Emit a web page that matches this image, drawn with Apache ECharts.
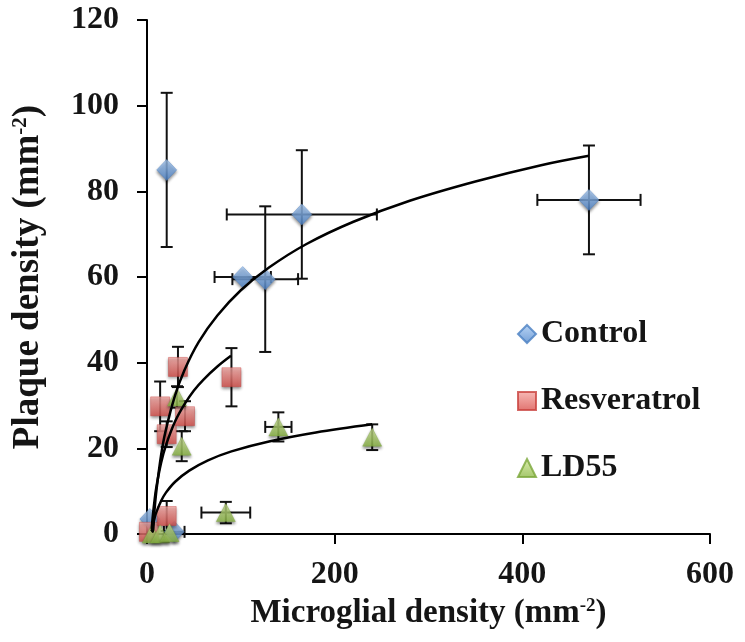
<!DOCTYPE html>
<html>
<head>
<meta charset="utf-8">
<script src="https://cdn.jsdelivr.net/npm/echarts@6/dist/echarts.min.js"></script>
<style>
html,body{margin:0;padding:0;background:#fff;}
#chart{width:745px;height:642px;}
</style>
</head>
<body>
<div id="chart"></div>
<script>
// ---- data ----
const seriesNames = ['Control', 'Resveratrol', 'LD55'];
const xTicks = [0, 200, 400, 600];
const yTicks = [0, 20, 40, 60, 80, 100, 120];

const controlX    = [3, 29, 21, 102, 126, 165, 471];
const controlY    = [3.5, 0.5, 85, 60, 59.5, 74.6, 78];
const controlXErr = [0, 11, 0, 30, 35, 80, 55];
const controlYErr = [0, 0, 18, 0, 17, 15, 12.7];

const resvX    = [2, 14, 21, 21, 33, 40.5, 90];
const resvY    = [0.5, 29.8, 23.3, 4.2, 39, 27.5, 36.6];
const resvXErr = [0, 0, 0, 0, 0, 0, 0];
const resvYErr = [0, 5.8, 3, 3.5, 4.7, 3.5, 6.8];

const ldX    = [5, 14, 24, 32, 37, 84, 140, 240];
const ldY    = [0, 0, 0.3, 32, 20.5, 5, 25, 22.6];
const ldXErr = [0, 0, 0, 0, 0, 26, 14, 0];
const ldYErr = [0, 0, 0, 2.5, 3.5, 2.5, 3.4, 3];

// trendline points
const controlFitX = [5, 6, 8, 10, 15, 20, 30, 40, 55, 75, 100, 130, 170, 220, 280, 350, 420, 471];
const controlFitY = [1, 0.5, 5.6, 10.1, 18.4, 24.2, 32.4, 38.3, 44.8, 51.0, 56.9, 62.2, 67.7, 72.9, 77.8, 82.3, 86.1, 88.3];
const resvFitX = [5, 6, 8, 10, 15, 20, 30, 40, 50, 60, 75, 89.5];
const resvFitY = [1.2, 3.8, 7.8, 11, 16.6, 20.6, 26.3, 30.3, 33.5, 36, 39.1, 41.6];
const ldFitX = [5, 6, 8, 10, 15, 20, 30, 45, 65, 90, 130, 180, 240];
const ldFitY = [0.7, 1.8, 3.7, 5.1, 7.7, 9.6, 12.2, 14.8, 17.2, 19.3, 21.6, 23.7, 25.6];

// ---- build ----
const FONT = '"Liberation Serif", "DejaVu Serif", serif';
const zip2 = (a, b) => a.map((v, i) => [v, b[i]]);
const zip4 = (a, b, c, d) => a.map((v, i) => [v, b[i], c[i], d[i]]);

function grad(top, bottom) {
  return new echarts.graphic.LinearGradient(0, 0, 0, 1, [
    { offset: 0, color: top }, { offset: 1, color: bottom }
  ]);
}
const blueFill = grad('#a9cbf3', '#4f86cc');
const redFill = grad('#f6a9a5', '#d9504b');
const greenFill = grad('#d3e99a', '#8cb845');

function errRender(params, api) {
  const x = api.value(0), y = api.value(1), xe = api.value(2), ye = api.value(3);
  const c = api.coord([x, y]);
  const cap = 6;
  const style = { stroke: '#111', lineWidth: 2 };
  const ch = [];
  if (ye > 0) {
    const t = api.coord([x, y + ye]), b = api.coord([x, y - ye]);
    ch.push({ type: 'line', shape: { x1: c[0], y1: t[1], x2: c[0], y2: b[1] }, style });
    ch.push({ type: 'line', shape: { x1: c[0] - cap, y1: t[1], x2: c[0] + cap, y2: t[1] }, style });
    ch.push({ type: 'line', shape: { x1: c[0] - cap, y1: b[1], x2: c[0] + cap, y2: b[1] }, style });
  }
  if (xe > 0) {
    const l = api.coord([x - xe, y]), r = api.coord([x + xe, y]);
    ch.push({ type: 'line', shape: { x1: l[0], y1: c[1], x2: r[0], y2: c[1] }, style });
    ch.push({ type: 'line', shape: { x1: l[0], y1: c[1] - cap, x2: l[0], y2: c[1] + cap }, style });
    ch.push({ type: 'line', shape: { x1: r[0], y1: c[1] - cap, x2: r[0], y2: c[1] + cap }, style });
  }
  return { type: 'group', children: ch };
}

function errSeries(name, data) {
  return {
    name: name, type: 'custom', renderItem: errRender, data: data,
    encode: { x: 0, y: 1 }, z: 2, silent: true, clip: false
  };
}
function fitSeries(name, data) {
  return {
    name: name, type: 'line', data: data, smooth: 0.35, showSymbol: false, symbol: 'none',
    lineStyle: { color: '#000', width: 2.5 }, z: 5, silent: true
  };
}
const shadow = { shadowColor: 'rgba(0,0,0,0.55)', shadowBlur: 3, shadowOffsetY: 2 };

const option = {
  animation: false,
  backgroundColor: '#fff',
  grid: { left: 147, right: 35, top: 20, bottom: 108 },
  legend: {
    orient: 'vertical', left: 512, top: 311,
    data: seriesNames,
    itemWidth: 18, itemHeight: 18, itemGap: 31, itemTextGap: 7,
    textStyle: { fontFamily: FONT, fontWeight: 'bold', fontSize: 32, color: '#151515', lineHeight: 36 }
  },
  xAxis: {
    type: 'value', min: xTicks[0], max: xTicks[xTicks.length - 1], interval: xTicks[1] - xTicks[0],
    splitLine: { show: false },
    axisLine: { onZero: false, lineStyle: { color: '#000', width: 2 } },
    axisTick: { show: true, inside: false, length: 10, lineStyle: { color: '#000', width: 2 } },
    axisLabel: { fontFamily: FONT, fontWeight: 'bold', fontSize: 32, color: '#151515', margin: 25 },
    name: '{t|Microglial density (mm}{s|-2}{t|)}',
    nameLocation: 'middle', nameGap: 63,
    nameTextStyle: {
      rich: {
        t: { fontFamily: FONT, fontWeight: 'bold', fontSize: 33, color: '#151515' },
        s: { fontFamily: FONT, fontWeight: 'bold', fontSize: 19, color: '#151515', verticalAlign: 'top', padding: [0, 0, 12, 0] }
      }
    }
  },
  yAxis: {
    type: 'value', min: yTicks[0], max: yTicks[yTicks.length - 1], interval: yTicks[1] - yTicks[0],
    splitLine: { show: false },
    axisLine: { show: true, onZero: false, lineStyle: { color: '#000', width: 2 } },
    axisTick: { show: true, inside: false, length: 10, lineStyle: { color: '#000', width: 2 } },
    axisLabel: { fontFamily: FONT, fontWeight: 'bold', fontSize: 32, color: '#151515', margin: 28 },
    name: '{t|Plaque density (mm}{s|-2}{t|)}',
    nameLocation: 'middle', nameGap: 100, nameRotate: 90,
    nameTextStyle: {
      rich: {
        t: { fontFamily: FONT, fontWeight: 'bold', fontSize: 37, color: '#151515' },
        s: { fontFamily: FONT, fontWeight: 'bold', fontSize: 21, color: '#151515', verticalAlign: 'top', padding: [0, 0, 13, 0] }
      }
    }
  },
  series: [
    errSeries('Control err', zip4(controlX, controlY, controlXErr, controlYErr)),
    errSeries('Resveratrol err', zip4(resvX, resvY, resvXErr, resvYErr)),
    errSeries('LD55 err', zip4(ldX, ldY, ldXErr, ldYErr)),
    {
      name: 'Control', type: 'scatter', symbol: 'diamond', symbolSize: [20, 21], z: 3,
      data: zip2(controlX, controlY),
      itemStyle: Object.assign({ color: blueFill, borderColor: '#4a7fc2', borderWidth: 0.5 }, shadow)
    },
    {
      name: 'Resveratrol', type: 'scatter', symbol: 'rect', symbolSize: 19, z: 3,
      data: zip2(resvX, resvY),
      itemStyle: Object.assign({ color: redFill, borderColor: '#c9423e', borderWidth: 0.5 }, shadow)
    },
    {
      name: 'LD55', type: 'scatter', symbol: 'triangle', symbolSize: [19, 18], z: 3,
      data: zip2(ldX, ldY),
      itemStyle: Object.assign({ color: greenFill, borderColor: '#7aa63a', borderWidth: 0.5 }, shadow)
    },
    fitSeries('Control fit', zip2(controlFitX, controlFitY)),
    fitSeries('Resveratrol fit', zip2(resvFitX, resvFitY)),
    fitSeries('LD55 fit', zip2(ldFitX, ldFitY))
  ]
};

const chart = echarts.init(document.getElementById('chart'), null, { renderer: 'canvas' });
chart.setOption(option);
</script>
</body>
</html>
